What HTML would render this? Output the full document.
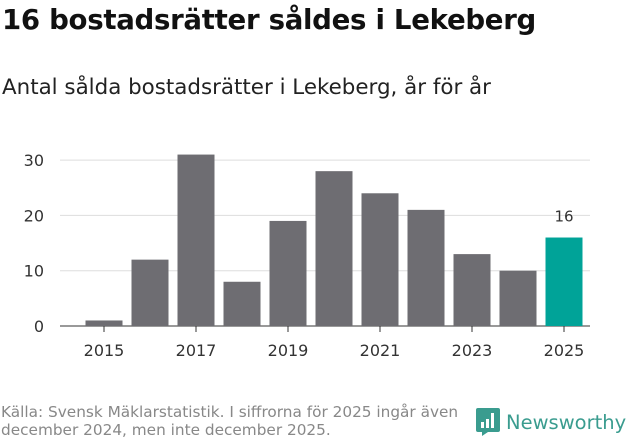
<!DOCTYPE html>
<html><head><meta charset="utf-8">
<style>
body{margin:0;width:631px;height:439px;background:#fff;font-family:"DejaVu Sans","Liberation Sans",sans-serif;overflow:hidden;position:relative}
#title{position:absolute;left:2px;top:3px;font-size:27.6px;font-weight:bold;color:#111;letter-spacing:-0.3px}
#sub{position:absolute;left:2px;top:75px;font-size:21.4px;color:#222}
#src{position:absolute;left:1px;top:403px;font-size:15.3px;color:#888;line-height:18px}
#logo{position:absolute;left:476px;top:408px;display:flex;align-items:center}
#logo span{font-size:19.5px;color:#3a9c8f;margin-left:6px}
svg{position:absolute;left:0;top:0}
</style></head><body>
<div id="title">16 bostadsrätter såldes i Lekeberg</div>
<div id="sub">Antal sålda bostadsrätter i Lekeberg, år för år</div>
<svg id="chart" width="631" height="439"></svg>
<div id="src">Källa: Svensk Mäklarstatistik. I siffrorna för 2025 ingår även<br>december 2024, men inte december 2025.</div>
<div id="logo">
<svg width="24" height="28" viewBox="0 0 24 28" style="position:static"><path d="M2 0h20a2 2 0 0 1 2 2v20a2 2 0 0 1-2 2H12l-6 4v-4H2a2 2 0 0 1-2-2V2a2 2 0 0 1 2-2z" fill="#3a9c8f"/><rect x="5" y="14" width="3" height="6" fill="#fff"/><rect x="10" y="11" width="3" height="9" fill="#fff"/><rect x="15" y="5" width="3" height="15" fill="#fff"/></svg>
<span>Newsworthy</span></div>
<script>
const years=[2015,2016,2017,2018,2019,2020,2021,2022,2023,2024,2025];
const values=[1,12,31,8,19,28,24,21,13,10,16];
const yTicks=[0,10,20,30];
const xTickLabels=[2015,2017,2019,2021,2023,2025];
const svg=document.getElementById('chart');
const NS='http://www.w3.org/2000/svg';
const y0=326,pxPer=5.53,x0=104,step=46,bw=37;
const yS=v=>y0-v*pxPer;
const xS=yr=>x0+(yr-years[0])*step;
function mk(t,a){const e=document.createElementNS(NS,t);for(const k in a)e.setAttribute(k,a[k]);svg.appendChild(e);return e;}
yTicks.forEach(t=>{
  const l=mk('line',{x1:60,x2:590,y1:yS(t),y2:yS(t),stroke:t===0?'#333':'#ddd','stroke-width':1});
  
  
  const tx=mk('text',{x:44,y:yS(t)+6,'text-anchor':'end','font-size':16,fill:'#333'});
  tx.textContent=t;
  
  
});
years.forEach((yr,i)=>{
  const last=i===years.length-1;
  const r=mk('rect',{x:xS(yr)-bw/2,y:yS(values[i]),width:bw,height:values[i]*pxPer,fill:last?'#00a398':'#6e6d72'});
  
  
  if(last){
    const t=mk('text',{x:xS(yr),y:yS(values[i])-16,'text-anchor':'middle','font-size':15,fill:'#333'});
    t.textContent=values[i];
    
    
  }
});
xTickLabels.forEach(yr=>{
  const l=mk('line',{x1:xS(yr),x2:xS(yr),y1:y0,y2:y0+6,stroke:'#333'});
  
  
  const t=mk('text',{x:xS(yr),y:y0+30,'text-anchor':'middle','font-size':16,fill:'#333'});
  t.textContent=yr;
  
  
});
</script>
</body></html>
